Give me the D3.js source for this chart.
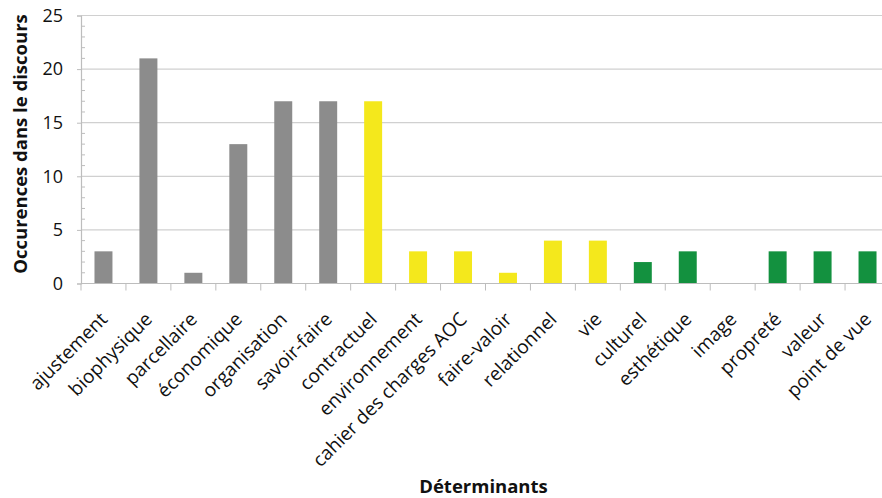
<!DOCTYPE html>
<html><head><meta charset="utf-8">
<script src="https://cdn.jsdelivr.net/npm/d3@7"></script>
<style>body{margin:0;background:#fff}svg{display:block}</style>
</head><body>
<svg id="c" width="882" height="498"></svg>
<script>
const categories = ["ajustement","biophysique","parcellaire","économique","organisation","savoir-faire","contractuel","environnement","cahier des charges AOC","faire-valoir","relationnel","vie","culturel","esthétique","image","propreté","valeur","point de vue"];
const values = [3,21,1,13,17,17,17,3,3,1,4,4,2,3,0,3,3,3];
const groups = ["gray","gray","gray","gray","gray","gray","yellow","yellow","yellow","yellow","yellow","yellow","green","green","green","green","green","green"];
const groupColors = {gray:"#8c8c8c", yellow:"#f4e81c", green:"#13913f"};
const yTicks = [0,5,10,15,20,25];
const yTitle = "Occurences dans le discours";
const xTitle = "Déterminants";

(function(){
const font = "'Open Sans', sans-serif";
const svg = d3.select("#c");
const mL = 81, mR = 890, mT = 15.5, mB = 283.5;
const x = d3.scaleBand().domain(categories).range([mL, mR]).paddingInner(0.6).paddingOuter(0.3);
const xb = d3.scaleBand().domain(categories).range([mL, mR]);
const y = d3.scaleLinear().domain([0,25]).range([mB, mT]);

svg.append("g").selectAll("line").data(yTicks.filter(d=>d>0)).join("line")
  .attr("x1", mL).attr("x2", mR).attr("y1", d=>y(d)).attr("y2", d=>y(d))
  .attr("stroke", "#d0d0d0").attr("stroke-width", 1.2);

svg.append("g").selectAll("line").data(d3.range(0,26).filter(d=>d%5!==0)).join("line")
  .attr("x1", mL).attr("x2", mL+4).attr("y1", d=>y(d)).attr("y2", d=>y(d))
  .attr("stroke", "#bdbdbd");

const ya = svg.append("g").attr("transform", `translate(${mL},0)`)
  .call(d3.axisLeft(y).tickValues(yTicks).tickSize(4).tickPadding(14));
ya.select(".domain").attr("stroke", "#bdbdbd").attr("stroke-width", 1.2);
ya.selectAll(".tick line").attr("stroke", "#bdbdbd");
ya.selectAll("text").attr("font-family", font).attr("font-size", 18).attr("fill", "#111");

svg.append("g").selectAll("rect").data(categories).join("rect")
  .attr("x", d=>x(d)).attr("width", x.bandwidth())
  .attr("y", (d,i)=>y(values[i])).attr("height", (d,i)=>y(0)-y(values[i]))
  .attr("fill", (d,i)=>groupColors[groups[i]]);

svg.append("line").attr("x1", mL).attr("x2", mR).attr("y1", mB).attr("y2", mB)
  .attr("stroke", "#bdbdbd").attr("stroke-width", 1.2);
svg.append("g").selectAll("line").data(categories).join("line")
  .attr("x1", d=>xb(d)).attr("x2", d=>xb(d)).attr("y1", mB).attr("y2", mB+7)
  .attr("stroke", "#bdbdbd");

svg.append("g").selectAll("text").data(categories).join("text")
  .attr("transform", d=>`translate(${xb(d)+xb.bandwidth()/2+5},${mB+37}) rotate(-45)`)
  .attr("text-anchor", "end")
  .attr("font-family", font).attr("font-size", 19).attr("fill", "#111")
  .text(d=>d);

svg.append("text").attr("transform", `translate(27,144) rotate(-90)`)
  .attr("text-anchor", "middle").attr("font-family", font).attr("font-weight", "bold")
  .attr("font-size", 18.5).attr("fill", "#111").text(yTitle);
svg.append("text").attr("x", (mL+mR)/2 - 2).attr("y", 493)
  .attr("text-anchor", "middle").attr("font-family", font).attr("font-weight", "bold")
  .attr("font-size", 18.5).attr("fill", "#111").text(xTitle);
})();
</script>
</body></html>
